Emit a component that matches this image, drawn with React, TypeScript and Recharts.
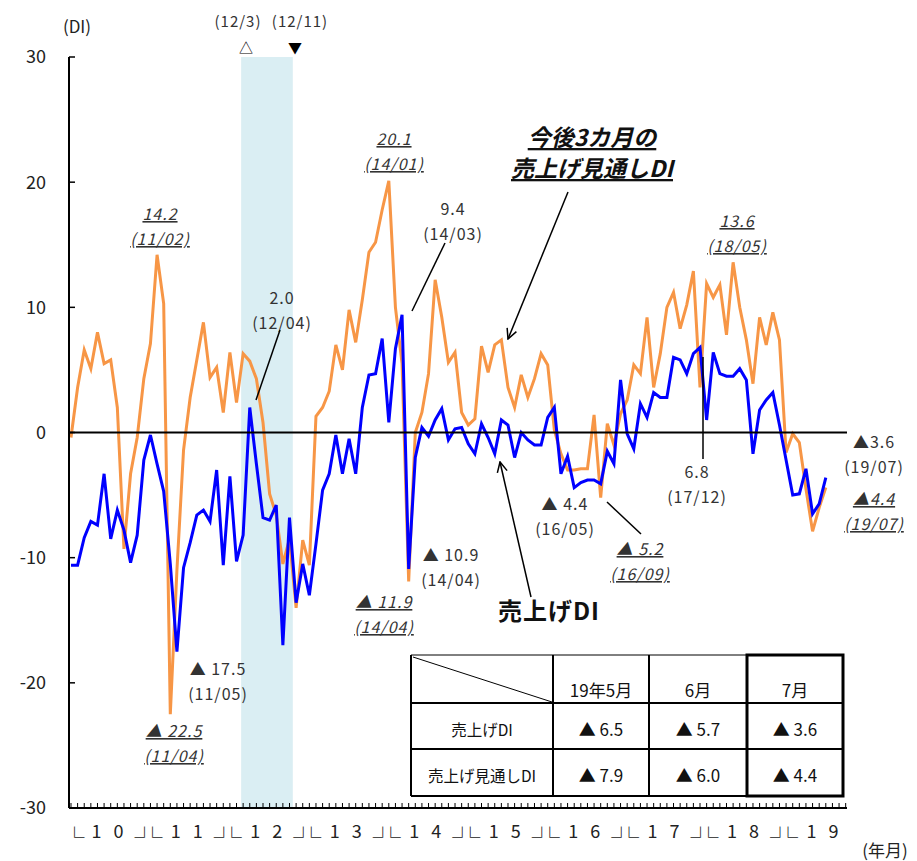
import React from 'react';
import { LineChart, Line, XAxis, YAxis, ReferenceArea, ReferenceLine } from 'recharts';

// 2010/01 .. 2019/07, monthly
const years = ['10', '11', '12', '13', '14', '15', '16', '17', '18', '19'];

const salesDI = [
  -10.6, -10.6, -8.4, -7.1, -7.4, -3.3, -8.5, -6.2, -7.8, -10.4, -8.2, -2.2,
  -0.2, -2.5, -4.7, -10.5, -17.5, -10.8, -8.8, -6.6, -6.2, -7.1, -3.0, -10.6,
  -3.5, -10.3, -8.2, 2.0, -2.5, -6.8, -7.0, -5.8, -17.0, -6.8, -13.6, -10.5,
  -13.0, -8.9, -4.6, -3.3, -0.2, -3.3, -0.5, -3.3, 2.0, 4.6, 4.7, 7.5,
  0.8, 6.7, 9.4, -10.9, -2.0, 0.4, -0.3, 1.0, 1.9, -0.6, 0.3, 0.4,
  -0.9, -1.7, 0.7, -0.4, -1.7, 1.0, 0.6, -2.0, 0.0, -0.6, -1.0, -1.0,
  1.2, 2.0, -3.3, -1.9, -4.4, -4.0, -3.8, -3.8, -4.1, -1.5, -2.5, 4.2,
  -0.1, -1.3, 2.3, 1.2, 3.2, 2.8, 2.8, 6.0, 5.8, 4.7, 6.3, 6.8,
  1.0, 6.4, 4.7, 4.5, 4.5, 5.1, 4.2, -1.7, 1.8, 2.6, 3.2, 0.6,
  -2.2, -5.0, -4.9, -2.9, -6.5, -5.7, -3.6,
];

const outlookDI = [
  -0.4, 3.6, 6.6, 5.1, 8.0, 5.5, 5.8, 2.0, -9.3, -3.3, -0.4, 4.3,
  7.1, 14.2, 10.3, -22.5, -11.0, -1.4, 2.8, 5.8, 8.8, 4.4, 5.2, 1.6,
  6.4, 2.4, 6.3, 5.7, 4.3, 0.8, -4.9, -6.6, -10.5, -8.5, -14.0, -8.6,
  -10.6, 1.3, 2.0, 3.3, 7.0, 5.0, 9.8, 7.2, 10.6, 14.4, 15.2, 17.8,
  20.1, 10.0, 5.5, -11.9, 0.0, 1.6, 4.7, 12.2, 9.2, 5.6, 6.4, 1.6,
  0.6, 1.1, 6.9, 4.8, 7.0, 7.4, 3.6, 2.0, 4.6, 2.8, 4.3, 6.3,
  5.4, 0.2, -1.7, -3.0, -3.0, -2.9, -2.9, 1.4, -5.2, 0.7, -1.0, 1.5,
  2.6, 5.4, 4.7, 9.2, 3.6, 6.3, 10.0, 11.2, 8.3, 10.2, 12.9, 3.6,
  11.9, 10.8, 11.8, 7.8, 13.6, 10.0, 7.4, 3.9, 9.2, 7.0, 9.6, 7.4,
  -1.6, -0.1, -0.8, -4.5, -7.9, -6.0, -4.4,
];

const yTicks = [-30, -20, -10, 0, 10, 20, 30];
const tableCols = ['19年5月', '6月', '7月'];
const tableRows = ['売上げDI', '売上げ見通しDI'];

const FONT = "'Noto Sans CJK JP', 'Noto Sans', sans-serif";
const ORANGE = '#F79646';
const BLUE = '#0000FF';
const PLOT_L = 69;
const AXIS_Y = 808;

const data = salesDI.map((v, i) => ({ i, sales: v, outlook: outlookDI[i] }));
const monthTicks = Array.from({ length: 118 }, (_, k) => k);
const yearTicks = years.map((_, k) => k * 12 + 5.5);

const monthName = (i: number) =>
  `(${10 + Math.floor(i / 12)}/${String((i % 12) + 1).padStart(2, '0')})`;
const tri = (v: number, gap = ' ') => (v < 0 ? `▲${gap}${Math.abs(v).toFixed(1)}` : v.toFixed(1));

const YTick = (props: any) => {
  const { y, payload } = props;
  return (
    <g>
      <line x1={PLOT_L} x2={PLOT_L + 6} y1={y} y2={y} stroke="#000" strokeWidth={1.5} />
      <text x={46} y={y} dy="0.36em" textAnchor="end" fontSize={18} fill="#222" fontFamily={FONT}>
        {payload.value}
      </text>
    </g>
  );
};

const XTick = (props: any) => {
  const { x, payload } = props;
  const v = payload.value;
  if (Number.isInteger(v)) {
    return <line x1={x} x2={x} y1={AXIS_Y} y2={AXIS_Y - 5} stroke="#000" strokeWidth={1} />;
  }
  const k = Math.floor(v / 12);
  const yr = years[k];
  const last = k === years.length - 1;
  const ty = 838;
  return (
    <g fontFamily={FONT} fill="#222">
      {k === 0 && (
        <text x={x - 43} y={845} fontSize={20}>└</text>
      )}
      <text x={x - 11} y={ty} fontSize={18} textAnchor="middle">{yr[0]}</text>
      <text x={x + 11} y={ty} fontSize={18} textAnchor="middle">{yr[1]}</text>
      {!last && (
        <text x={x + 27} y={845} fontSize={20} letterSpacing={-12}>┘└</text>
      )}
    </g>
  );
};

// annotation placements (text centre / baseline)
const notes = [
  { s: 'o', i: 13, x: 160, y: 220 },
  { s: 'o', i: 15, x: 174, y: 737 },
  { s: 'o', i: 48, x: 394, y: 145 },
  { s: 'o', i: 51, x: 384, y: 608 },
  { s: 'o', i: 80, x: 640, y: 555 },
  { s: 'o', i: 100, x: 737, y: 227 },
  { s: 'o', i: 114, x: 874, y: 505, tight: true },
  { s: 'b', i: 16, x: 218, y: 675 },
  { s: 'b', i: 27, x: 282, y: 304 },
  { s: 'b', i: 50, x: 453, y: 215 },
  { s: 'b', i: 51, x: 451, y: 561 },
  { s: 'b', i: 76, x: 565, y: 510 },
  { s: 'b', i: 95, x: 697, y: 478 },
  { s: 'b', i: 114, x: 874, y: 448, tight: true },
];

const Overlay = () => {
  const tx = [411, 553, 649, 747, 843];
  const ty = [655, 703, 749, 796];
  const last3 = (arr: number[]) => arr.slice(arr.length - 3);
  const rowsVals = [last3(salesDI), last3(outlookDI)];
  return (
    <svg width={917} height={861} style={{ position: 'absolute', left: 0, top: 0, pointerEvents: 'none' }}
      fontFamily={FONT}>
      <defs>
        <marker id="vhead" viewBox="0 0 12 12" refX="11" refY="6" markerWidth="12" markerHeight="12"
          markerUnits="userSpaceOnUse" orient="auto">
          <path d="M1,1 L11,6 L1,11" fill="none" stroke="#000" strokeWidth="1.5" />
        </marker>
      </defs>

      <text x={77} y={33} fontSize={17} textAnchor="middle" fill="#222">(DI)</text>
      <text x={238} y={27} fontSize={15} textAnchor="middle" fill="#333" letterSpacing={1}>(12/3)</text>
      <text x={300} y={27} fontSize={15} textAnchor="middle" fill="#333" letterSpacing={1}>(12/11)</text>
      <text x={246} y={53} fontSize={14} textAnchor="middle" fill="#000">△</text>
      <text x={295} y={53} fontSize={14} textAnchor="middle" fill="#000">▼</text>
      <text x={885} y={857} fontSize={17} textAnchor="middle" fill="#222">(年月)</text>

      {notes.map((n, k) => {
        const arr = n.s === 'o' ? outlookDI : salesDI;
        const orange = n.s === 'o';
        const st: any = orange
          ? { fontStyle: 'italic', textDecoration: 'underline', textDecorationThickness: '2px' }
          : {};
        return (
          <g key={k} fontSize={16} fill="#333" textAnchor="middle" letterSpacing={1} style={st}>
            <text x={n.x} y={n.y}>{tri(arr[n.i], n.tight ? '' : ' ')}</text>
            <text x={n.x} y={n.y + 25}>{monthName(n.i)}</text>
          </g>
        );
      })}

      {/* leader lines */}
      <line x1={280} y1={330} x2={256} y2={400} stroke="#000" strokeWidth={1.5} />
      <line x1={445} y1={243} x2={412} y2={311} stroke="#000" strokeWidth={1.5} />
      <line x1={607} y1={502} x2={641} y2={534} stroke="#000" strokeWidth={1.5} />
      <line x1={703} y1={357} x2={703} y2={459} stroke="#000" strokeWidth={1.5} />

      {/* series call-outs */}
      <g fontSize={23} fontWeight="bold" fontStyle="italic" fill="#111" textAnchor="middle"
        style={{ textDecoration: 'underline', textDecorationThickness: '2px' }}>
        <text x={592} y={146}>今後3カ月の</text>
        <text x={592} y={177}>売上げ見通しDI</text>
      </g>
      <line x1={568} y1={192} x2={508} y2={339} stroke="#000" strokeWidth={1.5} markerEnd="url(#vhead)" />
      <text x={549} y={620} fontSize={24} fontWeight="bold" fill="#111" textAnchor="middle" letterSpacing={1}>売上げDI</text>
      <line x1={531} y1={597} x2={500} y2={462} stroke="#000" strokeWidth={1.5} markerEnd="url(#vhead)" />

      {/* table */}
      <rect x={tx[0]} y={ty[0]} width={tx[4] - tx[0]} height={ty[3] - ty[0]} fill="#fff" />
      <line x1={tx[0]} y1={ty[0]} x2={tx[3]} y2={ty[0]} stroke="#000" strokeWidth={1} />
      <line x1={tx[0]} y1={ty[0]} x2={tx[0]} y2={ty[3]} stroke="#000" strokeWidth={2} />
      <line x1={tx[0]} y1={ty[3]} x2={tx[3]} y2={ty[3]} stroke="#000" strokeWidth={2} />
      <line x1={tx[0]} y1={ty[1]} x2={tx[4]} y2={ty[1]} stroke="#000" strokeWidth={2} />
      <line x1={tx[0]} y1={ty[2]} x2={tx[4]} y2={ty[2]} stroke="#000" strokeWidth={2} />
      <line x1={tx[1]} y1={ty[0]} x2={tx[1]} y2={ty[3]} stroke="#000" strokeWidth={2} />
      <line x1={tx[2]} y1={ty[0]} x2={tx[2]} y2={ty[3]} stroke="#000" strokeWidth={2} />
      <rect x={tx[3]} y={ty[0]} width={tx[4] - tx[3]} height={ty[3] - ty[0]} fill="none" stroke="#000" strokeWidth={3} />
      <line x1={tx[0] + 2} y1={ty[0] + 2} x2={tx[1] - 1} y2={ty[1] - 1} stroke="#000" strokeWidth={1} />
      <g fill="#111" textAnchor="middle">
        {tableCols.map((c, k) => (
          <text key={c} x={(tx[k + 1] + tx[k + 2]) / 2} y={697} fontSize={17}>{c}</text>
        ))}
        {tableRows.map((r, k) => (
          <g key={r}>
            <text x={(tx[0] + tx[1]) / 2} y={k === 0 ? 736 : 782} fontSize={15.5}>{r}</text>
            {rowsVals[k].map((v, j) => (
              <text key={j} x={(tx[j + 1] + tx[j + 2]) / 2} y={k === 0 ? 736 : 782} fontSize={17}>
                {tri(v)}
              </text>
            ))}
          </g>
        ))}
      </g>
    </svg>
  );
};

export default function App() {
  return (
    <div style={{ position: 'absolute', left: 0, top: 0, width: 917, height: 861, background: '#fff' }}>
      <LineChart width={917} height={861} data={data} margin={{ top: 57, right: 70, bottom: 0, left: 0 }}>
        <ReferenceArea x1={25.7} x2={33.5} y1={-30} y2={30} fill="#DAEEF3" fillOpacity={1} stroke="none" />
        <XAxis
          dataKey="i"
          type="number"
          domain={[-0.3, 117.2]}
          ticks={[...monthTicks, ...yearTicks]}
          interval={0}
          tick={<XTick />}
          tickLine={false}
          height={53}
          axisLine={{ stroke: '#000', strokeWidth: 2 }}
        />
        <YAxis
          domain={[-30, 30]}
          ticks={yTicks}
          interval={0}
          width={69}
          tick={<YTick />}
          tickLine={false}
          axisLine={{ stroke: '#000', strokeWidth: 2 }}
        />
        <Line type="linear" dataKey="outlook" stroke={ORANGE} strokeWidth={3} dot={false} isAnimationActive={false} />
        <Line type="linear" dataKey="sales" stroke={BLUE} strokeWidth={3} dot={false} isAnimationActive={false} />
        <ReferenceLine y={0} stroke="#000" strokeWidth={2} />
      </LineChart>
      <Overlay />
    </div>
  );
}
